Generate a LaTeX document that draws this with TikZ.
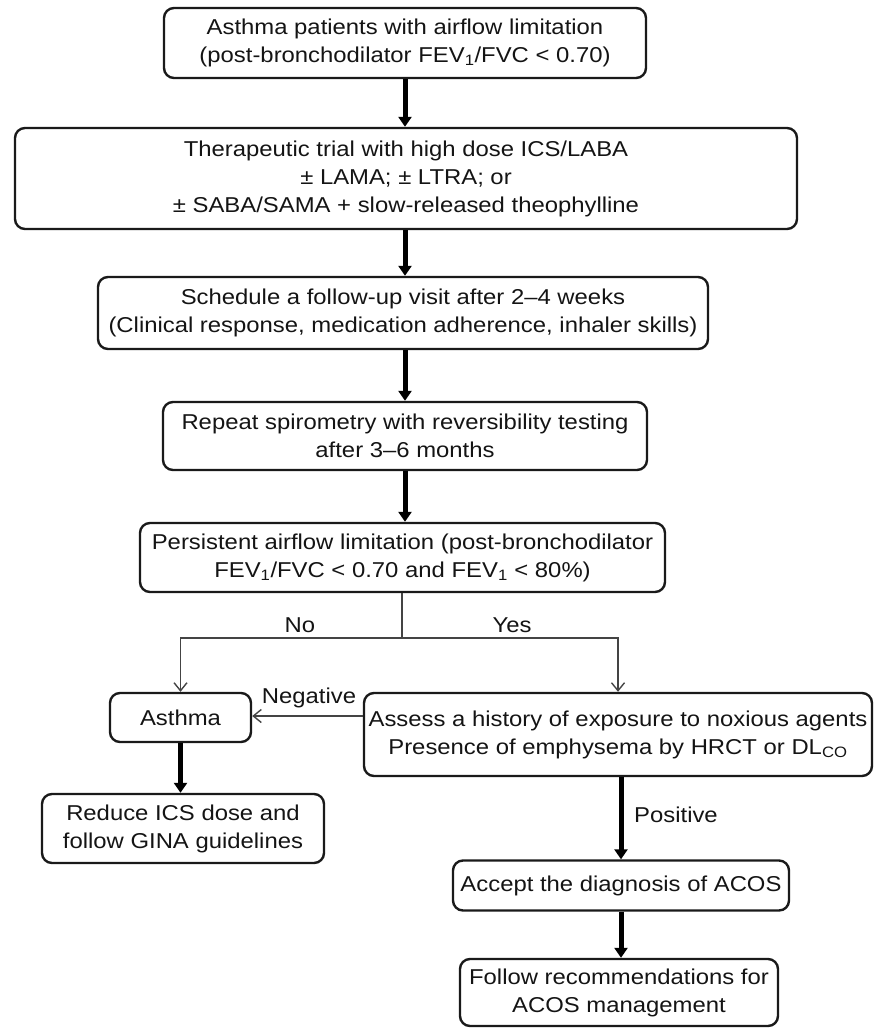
\documentclass[tikz,border=0pt]{standalone}
\usepackage{fontspec}
\setmainfont{Liberation Sans}[FakeStretch=1.11]
\usetikzlibrary{arrows.meta}
\definecolor{boxline}{HTML}{1A1A1A}
\definecolor{thinline}{HTML}{444444}
\tikzset{
  box/.style={draw=boxline, line width=2.4pt, rounded corners=10pt, align=center,
    inner sep=0pt, font=\fontsize{21.5}{28}\selectfont, text=black!92},
  lbl/.style={inner sep=0pt, font=\fontsize{21.5}{28}\selectfont, text=black!92},
  thick arrow/.style={line width=5pt, draw=black, -{Triangle[width=13pt,length=10pt]}, shorten >=0pt},
  thin arrow/.style={line width=1.4pt, draw=thinline, -{Straight Barb[width=13pt,length=8pt,line width=1.4pt]}},
  thin line/.style={line width=1.4pt, draw=thinline},
}
\begin{document}
\begin{tikzpicture}[x=1pt,y=-1pt]
\useasboundingbox (0,0) rectangle (878,1028);
\node[box, minimum width=482pt, minimum height=70pt] (b1) at (405,43)
  {Asthma patients with airflow limitation\\(post-bronchodilator FEV\textsubscript{1}/FVC < 0.70)};
\node[box, minimum width=782pt, minimum height=101pt] (b2) at (406,178.5)
  {Therapeutic trial with high dose ICS/LABA\\± LAMA; ± LTRA; or\\± SABA/SAMA + slow-released theophylline};
\node[box, minimum width=610pt, minimum height=72pt] (b3) at (403,313)
  {Schedule a follow-up visit after 2–4 weeks\\(Clinical response, medication adherence, inhaler skills)};
\node[box, minimum width=484pt, minimum height=68pt] (b4) at (405,436)
  {Repeat spirometry with reversibility testing\\after 3–6 months};
\node[box, minimum width=525pt, minimum height=69pt] (b5) at (402.5,557.5)
  {Persistent airflow limitation (post-bronchodilator\\FEV\textsubscript{1}/FVC < 0.70 and FEV\textsubscript{1} < 80\%)};
\node[box, minimum width=141pt, minimum height=49pt] (asthma) at (180.5,717.5) {Asthma};
\node[box, minimum width=508pt, minimum height=83pt] (assess) at (618,734.5)
  {Assess a history of exposure to noxious agents\\Presence of emphysema by HRCT or DL\textsubscript{CO}};
\node[box, minimum width=282pt, minimum height=69pt] (reduce) at (183,828.5)
  {Reduce ICS dose and\\follow GINA guidelines};
\node[box, minimum width=336pt, minimum height=50pt] (accept) at (621,885.5)
  {Accept the diagnosis of ACOS};
\node[box, minimum width=318pt, minimum height=67pt] (follow) at (619,992.5)
  {Follow recommendations for\\ACOS management};
% thick arrows
\draw[thick arrow] (b1.south) -- (b1.south |- b2.north);
\draw[thick arrow] (b2.south -| b1.south) -- (b1.south |- b3.north);
\draw[thick arrow] (b3.south -| b1.south) -- (b1.south |- b4.north);
\draw[thick arrow] (b4.south -| b1.south) -- (b1.south |- b5.north);
\draw[thick arrow] (asthma.south) -- (asthma.south |- reduce.north);
\draw[thick arrow] (accept.north |- assess.south) -- (accept.north);
\draw[thick arrow] (accept.south) -- (accept.south |- follow.north);
% branch
\coordinate (sp) at (402,638);
\draw[thin line] (b5.south -| sp) -- (sp);
\draw[thin arrow] (sp) -| (asthma.north);
\draw[thin arrow] (sp) -| (assess.north);
\draw[thin arrow] (assess.west |- 0,716) -- (asthma.east |- 0,716);
% labels
\node[lbl] (no) at (300,625) {No};
\node[lbl] (yes) at (512,625) {Yes};
\node[lbl] (neg) at (309,698) {Negative};
\node[lbl, anchor=west] (pos) at (634,815) {Positive};
\end{tikzpicture}
\end{document}
